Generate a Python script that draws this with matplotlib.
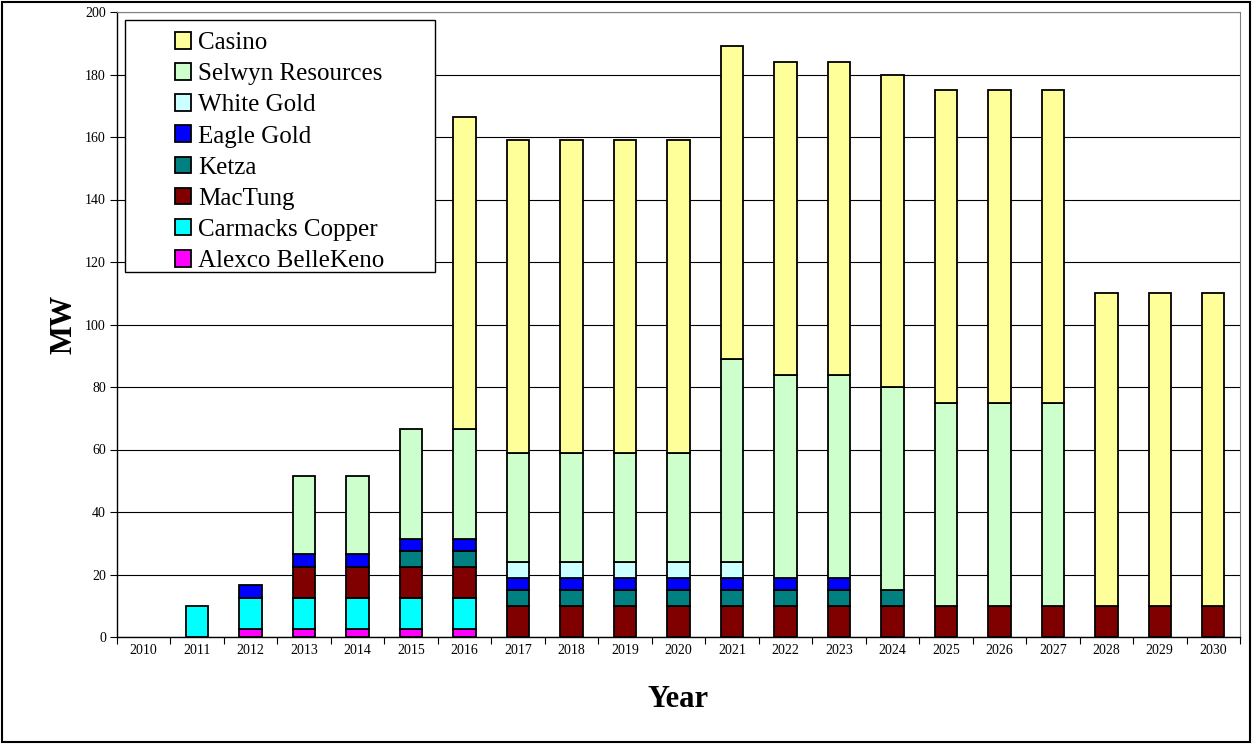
import matplotlib
matplotlib.use("Agg")
import matplotlib.pyplot as plt
import numpy as np
from matplotlib.patches import Rectangle

years = [str(y) for y in range(2010, 2031)]
alexco   = [0, 0, 2.5, 2.5, 2.5, 2.5, 2.5, 0, 0, 0, 0, 0, 0, 0, 0, 0, 0, 0, 0, 0, 0]
carmacks = [0, 10, 10, 10, 10, 10, 10, 0, 0, 0, 0, 0, 0, 0, 0, 0, 0, 0, 0, 0, 0]
mactung  = [0, 0, 0, 10, 10, 10, 10, 10, 10, 10, 10, 10, 10, 10, 10, 10, 10, 10, 10, 10, 10]
ketza    = [0, 0, 0, 0, 0, 5, 5, 5, 5, 5, 5, 5, 5, 5, 5, 0, 0, 0, 0, 0, 0]
eagle    = [0, 0, 4, 4, 4, 4, 4, 4, 4, 4, 4, 4, 4, 4, 0, 0, 0, 0, 0, 0, 0]
white    = [0, 0, 0, 0, 0, 0, 0, 5, 5, 5, 5, 5, 0, 0, 0, 0, 0, 0, 0, 0, 0]
selwyn   = [0, 0, 0, 25, 25, 35, 35, 35, 35, 35, 35, 65, 65, 65, 65, 65, 65, 65, 0, 0, 0]
casino   = [0, 0, 0, 0, 0, 0, 100, 100, 100, 100, 100, 100, 100, 100, 100, 100, 100, 100, 100, 100, 100]

series = [
    ("Alexco BelleKeno", alexco, "#FF00FF"),
    ("Carmacks Copper", carmacks, "#00FFFF"),
    ("MacTung", mactung, "#800000"),
    ("Ketza", ketza, "#008080"),
    ("Eagle Gold", eagle, "#0000FF"),
    ("White Gold", white, "#CCFFFF"),
    ("Selwyn Resources", selwyn, "#CCFFCC"),
    ("Casino", casino, "#FFFF99"),
]

plt.rcParams['font.family'] = ['Liberation Serif', 'DejaVu Serif']

W, H = 1252, 744
fig = plt.figure(figsize=(W / 100, H / 100), dpi=100)
ax = fig.add_axes([117 / W, 1 - 637 / H, (1240 - 117) / W, (637 - 12) / H])

x = np.arange(len(years))
bottom = np.zeros(len(years))
handles = []
for name, vals, col in series:
    v = np.array(vals, dtype=float)
    mask = v > 0
    b = ax.bar(x[mask], v[mask], bottom=bottom[mask], width=0.42, color=col,
               edgecolor='black', linewidth=1.3, label=name, zorder=3)
    handles.append(b)
    bottom += v

ax.set_xlim(-0.5, len(years) - 0.5)
ax.set_ylim(0, 200)
ax.set_yticks(np.arange(0, 201, 20))
ax.yaxis.grid(True, color='black', linewidth=0.8, zorder=0)
ax.set_axisbelow(True)

ax.set_xticks(np.arange(-0.5, len(years), 1.0))
ax.set_xticklabels([])
ax.set_xticks(x, minor=True)
ax.set_xticklabels(years, minor=True, fontsize=10)
ax.tick_params(axis='x', which='minor', length=0, pad=5)
ax.tick_params(axis='x', which='major', length=5, direction='out', width=0.8)
ax.tick_params(axis='y', length=5, direction='out', labelsize=10, width=0.8, pad=3)

for s in ['top', 'right']:
    ax.spines[s].set_color('#808080')
for s in ['left', 'bottom']:
    ax.spines[s].set_color('black')
    ax.spines[s].set_linewidth(1.0)

ax.set_ylabel("MW", fontsize=22, fontweight='bold', labelpad=5)
ax.set_xlabel("Year", fontsize=22, fontweight='bold', labelpad=20)

# legend frame
fig.patches.append(Rectangle((125 / W, 1 - 272 / H), (435 - 125) / W, (272 - 20) / H,
                             transform=fig.transFigure, fill=True, facecolor='white',
                             edgecolor='black', linewidth=1.0, zorder=5))
leg = fig.legend(handles[::-1], [s[0] for s in series][::-1], loc='upper left',
                 bbox_to_anchor=(175 / W, 1 - 32 / H), fontsize=18, frameon=False,
                 handlelength=0.65, handleheight=0.65, handletextpad=0.28,
                 labelspacing=0.36, borderpad=0, borderaxespad=0)
leg.set_zorder(6)

fig.patches.append(Rectangle((2 / W, 2 / H), 1 - 4 / W, 1 - 4 / H, transform=fig.transFigure,
                             fill=False, edgecolor='black', linewidth=1.5))

fig.savefig("out.png", dpi=100)
